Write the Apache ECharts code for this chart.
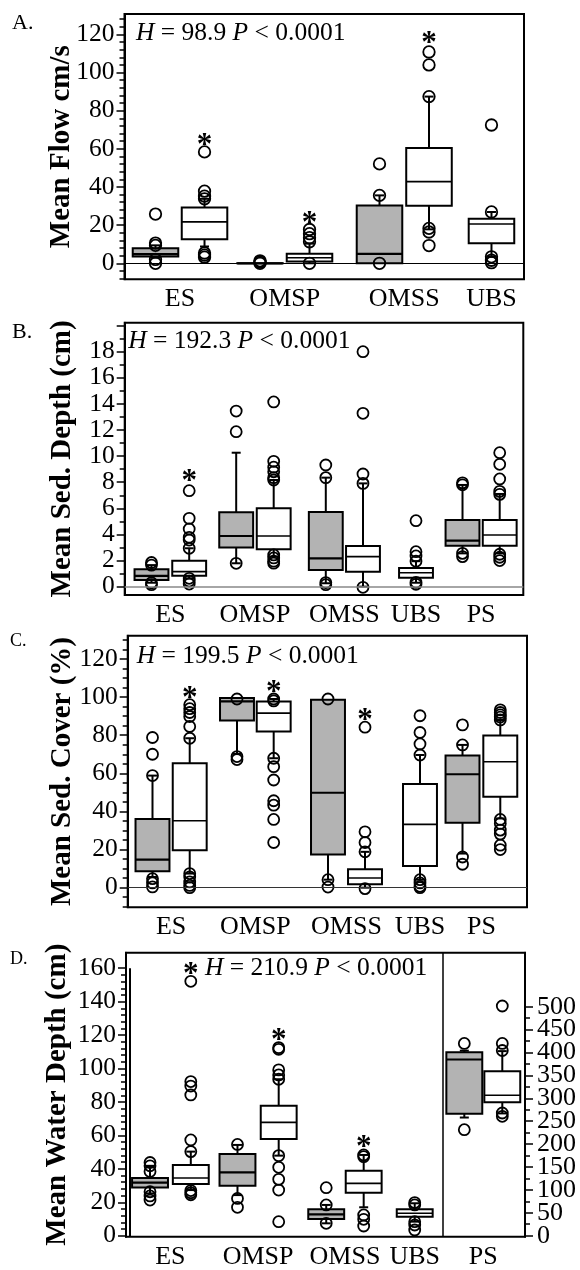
<!DOCTYPE html>
<html><head><meta charset="utf-8">
<script src="https://cdn.jsdelivr.net/npm/echarts@6/dist/echarts.min.js"></script>
<style>html,body{margin:0;padding:0;background:#fff}#c{width:580px;height:1270px}</style>
</head><body><div id="c"></div>
<script>
// ================= DATA =================
// each box: [low whisker, Q1, median, Q3, high whisker]
// ---- Panel A: Mean Flow cm/s ----
const A_group = ['ES','ES','OMSP','OMSP','OMSS','OMSS','UBS'];
const A_shade = ['g','w','g','w','g','w','w'];
const A_box = [
  [3.0, 3.5, 4.8, 7.9, 9.4],
  [8.8, 12.6, 21.7, 29.3, 33.8],
  [0, 0, 0, 0, 0],
  [0, 0.9, 2.9, 5.0, 10.3],
  [0, 0, 4.9, 30.3, 35.6],
  [17.8, 30.1, 42.8, 60.4, 87.4],
  [3.4, 10.5, 20.6, 23.4, 26.9]
];
const A_out = [
  [25.8, 10.6, 9.4, 2.0, 0],
  [58.4, 37.8, 35.2, 33.8, 5.4, 4.3, 3.2],
  [1.3, 0.6, 0],
  [17.7, 15.5, 13.4, 11.3, 0],
  [52.1, 35.6, 0],
  [110.8, 104, 87.4, 18.3, 16.4, 9.3],
  [72.5, 26.9, 3.4, 1.6, 0.3]
];
const A_star = [null, 65.6, null, 25, null, 119, null];
const A_ticks = [0, 20, 40, 60, 80, 100, 120];
const A_stat = ['98.9', '0.0001'];

// ---- Panel B: Mean Sed. Depth (cm) ----
const B_group = ['ES','ES','OMSP','OMSP','OMSS','OMSS','UBS','PS','PS'];
const B_shade = ['g','w','g','w','g','w','w','g','w'];
const B_box = [
  [0.3, 0.51, 0.82, 1.33, 1.65],
  [0.64, 0.84, 1.15, 1.99, 2.94],
  [1.79, 2.99, 3.88, 5.69, 10.26],
  [2.3, 2.86, 3.88, 6.0, 8.17],
  [0.26, 1.28, 2.17, 5.72, 8.35],
  [0, 1.15, 2.3, 3.11, 7.91],
  [0.3, 0.69, 1.07, 1.43, 1.95],
  [2.55, 3.14, 3.52, 5.1, 7.79],
  [2.55, 3.14, 3.96, 5.1, 7.1]
];
const B_out = [
  [1.85, 1.65, 0.3, 0.15],
  [7.35, 5.23, 4.42, 3.78, 3.57, 2.94, 0.64, 0.43, 0.2],
  [13.45, 11.87, 1.79],
  [14.15, 9.6, 9.15, 8.8, 8.35, 8.17, 2.43, 2.2, 1.95, 1.8],
  [9.32, 8.35, 0.31, 0.15],
  [18.0, 13.28, 8.63, 7.91, -0.05],
  [5.05, 2.68, 2.35, 1.95, 0.33, 0.18],
  [7.95, 7.8, 2.55, 2.3],
  [10.26, 9.37, 8.25, 7.3, 7.07, 2.48, 2.25, 2.0]
];
const B_star = [null, 8.6, null, null, null, null, null, null, null];
const B_ticks = [0, 2, 4, 6, 8, 10, 12, 14, 16, 18, 20];
const B_tickLabels = [0, 2, 4, 6, 8, 10, 12, 14, 16, 18];
const B_stat = ['192.3', '0.0001'];

// ---- Panel C: Mean Sed. Cover (%) ----
const C_group = ['ES','ES','OMSP','OMSP','OMSS','OMSS','UBS','PS','PS'];
const C_shade = ['g','w','g','w','g','w','w','g','w'];
const C_box = [
  [5.6, 8.6, 14.7, 36.0, 58.8],
  [7.4, 19.6, 35.1, 65.3, 78.4],
  [70.2, 87.7, 97.7, 99.5, 99.5],
  [67.9, 81.9, 91.6, 97.7, 99],
  [4.2, 17.4, 49.8, 98.6, 98.6],
  [0, 1.75, 5.1, 9.6, 18.8],
  [4.2, 11.4, 33.2, 54.4, 69.6],
  [17.9, 34, 59.5, 69.3, 74.9],
  [36.3, 47.7, 66.1, 79.8, 88]
];
const C_out = [
  [78.8, 70, 58.8, 4.7, 2.5, 0.4],
  [96, 93.9, 91.9, 89.8, 84.6, 78.4, 7.4, 5.6, 3, 1.2, 0],
  [99, 68.8, 67.2],
  [99, 98, 67.9, 63.5, 56.5, 45.6, 43.3, 35.8, 23.7],
  [99, 4.2, 0.3],
  [84.2, 29.3, 23.7, 18.8, -0.5],
  [90.2, 81.4, 75.4, 69.6, 4.2, 2.5, 0.7, 0],
  [85.4, 74.9, 16.1, 12.3],
  [93.3, 91.9, 90.7, 89.5, 88, 35.8, 33.7, 30.2, 28.1, 22.3, 20]
];
const C_star = [null, 103, null, 106.5, null, 91.6, null, null, null];
const C_ticks = [0, 20, 40, 60, 80, 100, 120];
const C_stat = ['199.5', '0.0001'];

// ---- Panel D: Mean Water Depth (cm) ----
const D_group = ['ES','ES','OMSP','OMSP','OMSS','OMSS','UBS','PS','PS'];
const D_shade = ['g','w','g','w','g','w','w','g','w'];
const D_axis  = ['L','L','L','L','L','L','L','R','R'];
const D_box = [
  [25.3, 28.8, 31.7, 34.5, 41.8],
  [27.3, 30.9, 34.5, 42.3, 50.3],
  [24.3, 29.9, 37.9, 48.9, 54.3],
  [47.9, 57.9, 67.8, 77.8, 93.6],
  [7.4, 10, 12.8, 15.8, 18.4],
  [17, 25.7, 31.3, 38.9, 48.3],
  [8.4, 11.4, 13.4, 15.8, 19.4],
  [258, 266.4, 384.7, 400.7, 404],
  [267, 291.2, 306.6, 359, 403]
];
const D_out = [
  [43.8, 41.8, 38.4, 26.3, 23.8, 21.3],
  [152.2, 92.2, 89.5, 84.2, 57.3, 50.3, 27.0, 25.7, 24.5],
  [54.6, 22.3, 17],
  [112.5, 111.5, 99.2, 96.2, 93.6, 47.9, 40.9, 33.7, 27.3, 8.4],
  [28.7, 18.4, 7.4],
  [48.3, 47.3, 12.4, 9.8, 5.8],
  [19.8, 18.4, 8.4, 6.4, 3.4],
  [419.7, 231.4],
  [501.5, 419.7, 404.4, 267.9, 260.6]
];
const D_star = [null, 161, null, 121, null, 57.3, null, null, null];
const D_ticksL = [0, 20, 40, 60, 80, 100, 120, 140, 160];
const D_ticksR = [0, 50, 100, 150, 200, 250, 300, 350, 400, 450, 500];
const D_stat = ['210.9', '0.0001'];

// ================= LAYOUT (positions / sizes, not data) =================
const FONT = '"Liberation Serif", "Times New Roman", serif';
const TICK_FS = 25.5, XLAB_FS = 26, STAT_FS = 25.5, NAME_FS = 29;
const LAYOUT = {
  A: {grid:[124.5, 14, 399.5, 265.3], ymin:-8.4, ymax:130.7, minorStep:4, clipMinor:false,
      xpos:[7.76, 20.03, 33.92, 46.31, 63.83, 76.22, 91.86], bw:11.4, nameGap:48,
      letter:['A.', 12, 12, 22], stat:[136, 20], zero:['#000', 1], sym:11.5},
  B: {grid:[124.7, 322.7, 398.6, 272.3], ymin:-0.64, ymax:20.22, minorStep:1, clipMinor:false,
      xpos:[6.72, 16.18, 27.97, 37.38, 50.45, 59.78, 73.08, 84.75, 94.08], bw:8.5, nameGap:48,
      letter:['B.', 12, 321, 22], stat:[128.3, 328], zero:['#888', 1.5], sym:11},
  C: {grid:[127.7, 635.7, 399.3, 271.6], ymin:-10.3, ymax:132.2, minorStep:5, clipMinor:false,
      xpos:[6.21, 15.53, 27.37, 36.56, 50.16, 59.43, 73.2, 83.85, 93.31], bw:8.5, nameGap:51,
      letter:['C.', 10, 632, 18], stat:[136.7, 643], zero:['#333', 1], sym:11},
  D: {grid:[126, 952.7, 399, 284], ymin:-0.6, ymax:169.3, yminR:-2.2, ymaxR:617.9, minorStep:4, minorStepR:25, clipMinor:true,
      xpos:[6.02, 16.24, 27.94, 38.27, 50.18, 59.57, 72.36, 84.79, 94.31], bw:9.0, nameGap:54,
      letter:['D.', 10, 950, 18], stat:[205, 955], divider:79.27, inner:1.0, sym:11}
};

// ================= BUILD =================
const opt = {animation:false, backgroundColor:'#fff', grid:[], xAxis:[], yAxis:[], series:[], title:[]};

function minorsFor(min, max, step, majors, clip) {
  const lo = clip ? Math.min(...majors) : min;
  const hi = clip ? Math.max(...majors) : max;
  const r = [];
  for (let v = Math.ceil(lo / step) * step; v <= hi + 1e-9; v += step) {
    const vv = Math.round(v * 1000) / 1000;
    if (!majors.some(m => Math.abs(m - vv) < 1e-6)) r.push(vv);
  }
  return r;
}

function boxRenderer(bw) {
  return function (params, api) {
    const x = api.value(0);
    const lo = api.coord([x, api.value(1)]);
    const q1 = api.coord([x, api.value(2)]);
    const md = api.coord([x, api.value(3)]);
    const q3 = api.coord([x, api.value(4)]);
    const hi = api.coord([x, api.value(5)]);
    const gray = api.value(6) === 1;
    const half = api.size([bw, 0])[0] / 2;
    const cap = 4.5;
    const cx = q1[0];
    const ls = {stroke:'#000', lineWidth:2};
    const ch = [];
    if (hi[1] < q3[1] - 0.5) {
      ch.push({type:'line', shape:{x1:cx, y1:q3[1], x2:cx, y2:hi[1]}, style:ls});
      ch.push({type:'line', shape:{x1:cx - cap, y1:hi[1], x2:cx + cap, y2:hi[1]}, style:ls});
    }
    if (lo[1] > q1[1] + 0.5) {
      ch.push({type:'line', shape:{x1:cx, y1:q1[1], x2:cx, y2:lo[1]}, style:ls});
      ch.push({type:'line', shape:{x1:cx - cap, y1:lo[1], x2:cx + cap, y2:lo[1]}, style:ls});
    }
    ch.push({type:'rect', shape:{x:cx - half, y:q3[1], width:half * 2, height:Math.max(q1[1] - q3[1], 0.01)},
      style:{fill: gray ? '#b3b3b3' : '#fff', stroke:'#000', lineWidth:2}});
    ch.push({type:'line', shape:{x1:cx - half, y1:md[1], x2:cx + half, y2:md[1]},
      style:{stroke:'#000', lineWidth: gray ? 2.2 : 1.6}});
    return {type:'group', children:ch};
  };
}

function starRenderer(params, api) {
  const p = api.coord([api.value(0), api.value(1)]);
  return {type:'text', x:p[0], y:p[1] + 8, style:{text:'*', fill:'#000', fontFamily:FONT, fontWeight:'bold', fontSize:31, align:'center', verticalAlign:'middle'}};
}

function addPanel(L, d) {
  const gi = opt.grid.length;
  opt.grid.push({left:L.grid[0], top:L.grid[1], width:L.grid[2], height:L.grid[3], show:true,
    borderColor:'#000', borderWidth:2, backgroundColor:'rgba(0,0,0,0)'});
  // x labels at the centre of each group's boxes
  const groups = [];
  d.group.forEach((g, i) => {
    let e = groups.find(o => o.name === g);
    if (!e) { e = {name:g, xs:[]}; groups.push(e); }
    e.xs.push(L.xpos[i]);
  });
  groups.forEach(g => g.pos = g.xs.reduce((a, b) => a + b, 0) / g.xs.length);
  opt.xAxis.push({type:'value', gridIndex:gi, min:0, max:100, axisLine:{show:false}, axisTick:{show:false},
    splitLine:{show:false},
    axisLabel:{customValues:groups.map(g => g.pos), fontFamily:FONT, fontSize:XLAB_FS, color:'#000', margin:7,
      showMinLabel:true, showMaxLabel:true,
      formatter:v => { const g = groups.find(o => Math.abs(o.pos - v) < 1e-6); return g ? g.name : ''; }}});
  const xi = opt.xAxis.length - 1;

  // main axis (line, major ticks, even-indexed labels), minor-tick axis, and an extra axis
  // carrying the odd-indexed labels so that closely spaced labels are never dropped.
  function addY(min, max, majors, labels, minorStep, position, name, fs, margin) {
    const even = labels.filter((v, i) => i % 2 === 0);
    const odd = labels.filter((v, i) => i % 2 === 1);
    const lab = (vals) => ({customValues:vals, fontFamily:FONT, fontSize:fs, color:'#000', margin:margin,
        showMinLabel:true, showMaxLabel:true, hideOverlap:false});
    const main = {type:'value', gridIndex:gi, position, min, max,
      axisLine:{show:true, onZero:false, lineStyle:{color:'#000', width:2}},
      axisTick:{show:true, customValues:majors, length:8, lineStyle:{color:'#000', width:1.5}},
      axisLabel:lab(even), splitLine:{show:false}};
    if (name) {
      main.name = name; main.nameLocation = 'middle'; main.nameGap = L.nameGap; main.nameMoveOverlap = false;
      main.nameTextStyle = {fontFamily:FONT, fontWeight:'bold', fontSize:NAME_FS, color:'#000'};
    }
    opt.yAxis.push(main);
    const mi = opt.yAxis.length - 1;
    opt.yAxis.push({type:'value', gridIndex:gi, position, min, max, axisLine:{show:false},
      axisTick:{show:true, customValues:minorsFor(min, max, minorStep, majors, L.clipMinor), length:5, lineStyle:{color:'#000', width:1.5}},
      axisLabel:{show:false}, splitLine:{show:false}});
    opt.yAxis.push({type:'value', gridIndex:gi, position, min, max, axisLine:{show:false},
      axisTick:{show:false}, axisLabel:lab(odd), splitLine:{show:false}});
    return mi;
  }
  const yL = addY(L.ymin, L.ymax, d.ticks, d.tickLabels || d.ticks, L.minorStep, 'left', d.name, TICK_FS, 10);
  let yR = null;
  if (d.ticksR) yR = addY(L.yminR, L.ymaxR, d.ticksR, d.ticksR, L.minorStepR, 'right', null, 26, 12);

  const sides = yR === null ? [['L', yL]] : [['L', yL], ['R', yR]];
  sides.forEach(([side, yi], si) => {
    const idx = d.box.map((b, i) => i).filter(i => (d.axis ? d.axis[i] : 'L') === side);
    opt.series.push({type:'custom', xAxisIndex:xi, yAxisIndex:yi, z:2, renderItem:boxRenderer(L.bw),
      encode:{x:0, y:[1, 2, 3, 4, 5]},
      data:idx.map(i => [L.xpos[i], ...d.box[i], d.shade[i] === 'g' ? 1 : 0])});
    const pts = [];
    idx.forEach(i => d.out[i].forEach(v => pts.push([L.xpos[i], v])));
    const sc = {type:'scatter', xAxisIndex:xi, yAxisIndex:yi, z:3, symbol:'circle', symbolSize:L.sym,
      itemStyle:{color:'rgba(0,0,0,0)', borderColor:'#000', borderWidth:1.8, opacity:1}, data:pts};
    const ml = [];
    if (si === 0 && L.zero) ml.push({yAxis:0, lineStyle:{color:L.zero[0], width:L.zero[1], type:'solid'}});
    if (si === 0 && L.divider !== undefined) ml.push({xAxis:L.divider, lineStyle:{color:'#000', width:1.5, type:'solid'}});
    if (si === 0 && L.inner !== undefined) ml.push([{coord:[L.inner, 160], lineStyle:{color:'#000', width:2, type:'solid'}}, {coord:[L.inner, L.ymin]}]);
    if (ml.length) sc.markLine = {silent:true, symbol:['none', 'none'], label:{show:false}, data:ml, animation:false};
    opt.series.push(sc);
    const st = idx.filter(i => d.star[i] !== null).map(i => [L.xpos[i], d.star[i]]);
    if (st.length) opt.series.push({type:'custom', xAxisIndex:xi, yAxisIndex:yi, z:4, renderItem:starRenderer, data:st});
  });

  opt.title.push({text:L.letter[0], left:L.letter[1], top:L.letter[2], padding:0,
    textStyle:{fontFamily:FONT, fontWeight:'normal', fontSize:L.letter[3], color:'#000'}});
  opt.title.push({text:'{i|H} = ' + d.stat[0] + ' {i|P} < ' + d.stat[1], left:L.stat[0], top:L.stat[1], padding:0,
    textStyle:{fontFamily:FONT, fontWeight:'normal', fontSize:STAT_FS, color:'#000',
      rich:{i:{fontStyle:'italic', fontFamily:FONT, fontSize:STAT_FS, color:'#000'}}}});
}

addPanel(LAYOUT.A, {name:'Mean Flow cm/s', group:A_group, shade:A_shade, box:A_box, out:A_out, star:A_star, ticks:A_ticks, stat:A_stat});
addPanel(LAYOUT.B, {name:'Mean Sed. Depth (cm)', group:B_group, shade:B_shade, box:B_box, out:B_out, star:B_star, ticks:B_ticks, tickLabels:B_tickLabels, stat:B_stat});
addPanel(LAYOUT.C, {name:'Mean Sed. Cover (%)', group:C_group, shade:C_shade, box:C_box, out:C_out, star:C_star, ticks:C_ticks, stat:C_stat});
addPanel(LAYOUT.D, {name:'Mean Water Depth (cm)', group:D_group, shade:D_shade, axis:D_axis, box:D_box, out:D_out, star:D_star, ticks:D_ticksL, ticksR:D_ticksR, stat:D_stat});

const chart = echarts.init(document.getElementById('c'), null, {renderer:'canvas', width:580, height:1270});
chart.setOption(opt);
</script></body></html>
